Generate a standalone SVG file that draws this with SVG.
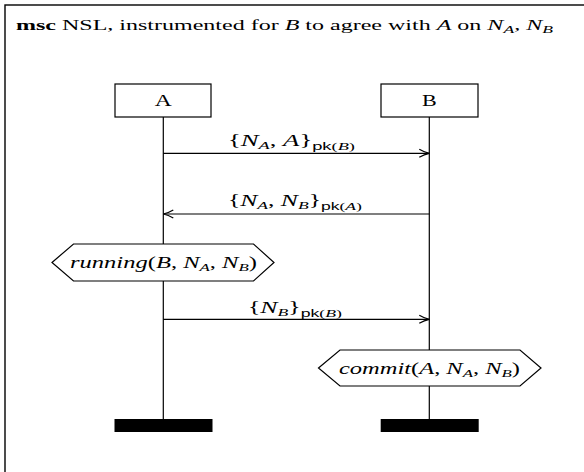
<svg xmlns="http://www.w3.org/2000/svg" width="584" height="472" viewBox="0 0 584 472">
<style>
text{font-family:"Liberation Serif","DejaVu Serif",serif;fill:#000}
.t{font-size:15px}
.m{font-size:16px}
.i{font-style:italic}
.s{font-size:11px}
.sf{font-family:"Liberation Sans","DejaVu Sans",sans-serif}
.ln{stroke:#000;stroke-width:1.2;fill:none}
.box{stroke:#000;stroke-width:1.2;fill:#fff}
</style>
<defs>
<marker id="ah" markerWidth="12" markerHeight="10" refX="11" refY="5" orient="auto" markerUnits="userSpaceOnUse">
<path d="M1,1 Q6,4 11,5 Q6,6 1,9" fill="none" stroke="#000" stroke-width="1.2"/>
</marker>
</defs>
<rect x="5" y="5" width="620" height="520" fill="none" stroke="#000" stroke-width="1.4"/>
<text x="16" y="30" class="t" textLength="537" lengthAdjust="spacingAndGlyphs"><tspan font-weight="bold">msc</tspan> NSL, instrumented for <tspan class="i">B</tspan> to agree with <tspan class="i">A</tspan> on <tspan class="i">N</tspan><tspan class="s i" dy="3">A</tspan><tspan dy="-3">, </tspan><tspan class="i">N</tspan><tspan class="s i" dy="3">B</tspan></text>
<g id="lifelines">
<line class="ln" x1="163.3" y1="117" x2="163.3" y2="419"/>
<line class="ln" x1="429.3" y1="117" x2="429.3" y2="419"/>
</g>
<g id="A">
<rect class="box" x="115" y="84" width="96" height="33"/>
<text x="154.7" y="106" class="m" textLength="17" lengthAdjust="spacingAndGlyphs">A</text>
<rect x="114.5" y="419" width="98" height="13" fill="#000"/>
</g>
<g id="B">
<rect class="box" x="381" y="84" width="97" height="33"/>
<text x="422" y="106" class="m" textLength="14.7" lengthAdjust="spacingAndGlyphs">B</text>
<rect x="380.7" y="419" width="98" height="13" fill="#000"/>
</g>
<g id="connectors">
<line class="ln" x1="163.3" y1="153.3" x2="429.3" y2="153.3" marker-end="url(#ah)"/>
<line class="ln" x1="429.3" y1="214" x2="163.3" y2="214" marker-end="url(#ah)"/>
<line class="ln" x1="163.3" y1="319.3" x2="429.3" y2="319.3" marker-end="url(#ah)"/>
</g>
<g id="labels">
<text x="228" y="146" class="m" textLength="127" lengthAdjust="spacingAndGlyphs">{<tspan class="i">N</tspan><tspan class="s i" dy="3">A</tspan><tspan dy="-3">, </tspan><tspan class="i">A</tspan>}<tspan class="s sf" dy="4">pk</tspan><tspan class="s">(</tspan><tspan class="s i">B</tspan><tspan class="s">)</tspan></text>
<text x="228" y="206" class="m" textLength="134" lengthAdjust="spacingAndGlyphs">{<tspan class="i">N</tspan><tspan class="s i" dy="3">A</tspan><tspan dy="-3">, </tspan><tspan class="i">N</tspan><tspan class="s i" dy="3">B</tspan><tspan dy="-3">}</tspan><tspan class="s sf" dy="4">pk</tspan><tspan class="s">(</tspan><tspan class="s i">A</tspan><tspan class="s">)</tspan></text>
<text x="248" y="313" class="m" textLength="94" lengthAdjust="spacingAndGlyphs">{<tspan class="i">N</tspan><tspan class="s i" dy="3">B</tspan><tspan dy="-3">}</tspan><tspan class="s sf" dy="4">pk</tspan><tspan class="s">(</tspan><tspan class="s i">B</tspan><tspan class="s">)</tspan></text>
</g>
<g id="running">
<polygon class="box" points="52,262.5 73.5,244 253.5,244 274,262.5 253.5,281 73.5,281"/>
<text x="70" y="267.5" class="m" textLength="187" lengthAdjust="spacingAndGlyphs"><tspan class="i">running</tspan>(<tspan class="i">B</tspan>, <tspan class="i">N</tspan><tspan class="s i" dy="3">A</tspan><tspan dy="-3">, </tspan><tspan class="i">N</tspan><tspan class="s i" dy="3">B</tspan><tspan dy="-3">)</tspan></text>
</g>
<g id="commit">
<polygon class="box" points="318.5,368 340,350 520,350 541,368 520,386 340,386"/>
<text x="339" y="373.5" class="m" textLength="181" lengthAdjust="spacingAndGlyphs"><tspan class="i">commit</tspan>(<tspan class="i">A</tspan>, <tspan class="i">N</tspan><tspan class="s i" dy="3">A</tspan><tspan dy="-3">, </tspan><tspan class="i">N</tspan><tspan class="s i" dy="3">B</tspan><tspan dy="-3">)</tspan></text>
</g>
</svg>
